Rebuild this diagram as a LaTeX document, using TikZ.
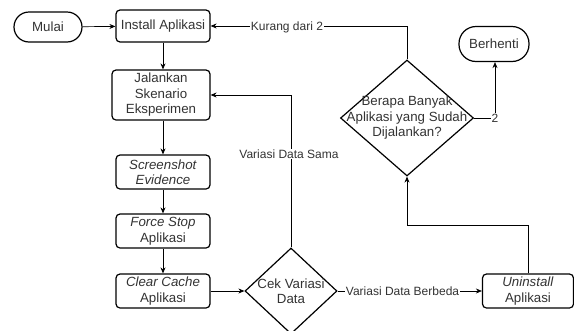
\documentclass[tikz,border=0pt]{standalone}
\usepackage{fontspec}
\setmainfont{Liberation Sans}
\usetikzlibrary{shapes.geometric,arrows.meta}
\begin{document}
\begin{tikzpicture}[x=1pt,y=-1pt,
  every node/.style={font=\fontsize{13.3}{15.5}\selectfont, text=black!80},
  box/.style={draw, line width=1.2pt, rounded corners=4pt, align=center, inner sep=1pt},
  term/.style={draw, line width=1.2pt, rounded corners=15pt, align=center},
  dia/.style={draw, diamond, line width=1.2pt, inner sep=0pt},
  lbl/.style={fill=white, inner sep=1pt, font=\fontsize{12}{13}\selectfont},
  conn/.style={draw, line width=0.7pt, -{Stealth[length=6pt,width=5pt]}},
  plain/.style={draw, line width=0.7pt}
]
\useasboundingbox (0,0) rectangle (574,330);
\node[term, minimum width=68pt, minimum height=30pt] (mulai) at (48,27) {Mulai};
\node[box, minimum width=94pt, minimum height=32pt] (install) at (163,26) {Install Aplikasi};
\node[box, minimum width=98pt, minimum height=50pt] (jalankan) at (161,95) {Jalankan\\Skenario\\Eksperimen};
\node[box, minimum width=94pt, minimum height=34pt] (screenshot) at (163,172) {\textit{Screenshot}\\\textit{Evidence}};
\node[box, minimum width=94pt, minimum height=34pt] (force) at (163,231) {\textit{Force Stop}\\Aplikasi};
\node[box, minimum width=94pt, minimum height=34pt] (clear) at (163,291) {\textit{Clear Cache}\\Aplikasi};
\node[dia, minimum width=92pt, minimum height=86pt] (cek) at (291,291) {};
\node[align=center] (cektext) at (cek) {Cek Variasi\\Data};
\node[box, minimum width=91pt, minimum height=34pt] (uninstall) at (528,291) {\textit{Uninstall}\\Aplikasi};
\node[dia, minimum width=133pt, minimum height=116pt] (banyak) at (407,118) {};
\node[align=center] (banyaktext) at (banyak) {Berapa Banyak\\Aplikasi yang Sudah\\Dijalankan?};
\node[term, minimum width=70pt, minimum height=35pt, rounded corners=17pt] (berhenti) at (494,44) {Berhenti};

\coordinate (c1) at (528,225);
\coordinate (c2) at (495,118);

\draw[conn] (mulai) -- (install);
\draw[conn] (install.south) -- (install.south |- jalankan.north);
\draw[conn] (jalankan.south -| screenshot.north) -- (screenshot.north);
\draw[conn] (screenshot) -- (force);
\draw[conn] (force) -- (clear);
\draw[conn] (clear) -- (cek.west);
\draw[conn] (cek.north) -- (cek.north |- jalankan.east) -- (jalankan.east);
\node[lbl] (lsama) at (289,154) {Variasi Data Sama};
\draw[conn] (cek.east) -- (uninstall.west) node[lbl, pos=0.45] (lbeda) {Variasi Data Berbeda};
\draw[conn] (uninstall.north) -- (c1) -- (c1 -| banyak.south) -- (banyak.south);
\draw[conn] (banyak.north) -- (banyak.north |- install.east) -- (install.east);
\node[lbl] (lkurang) at (287,27) {Kurang dari 2};
\draw[conn] (banyak.east) -- (c2) -- (c2 |- berhenti.south);
\node[lbl] (ldua) at (495,118) {2};
\end{tikzpicture}
\end{document}
